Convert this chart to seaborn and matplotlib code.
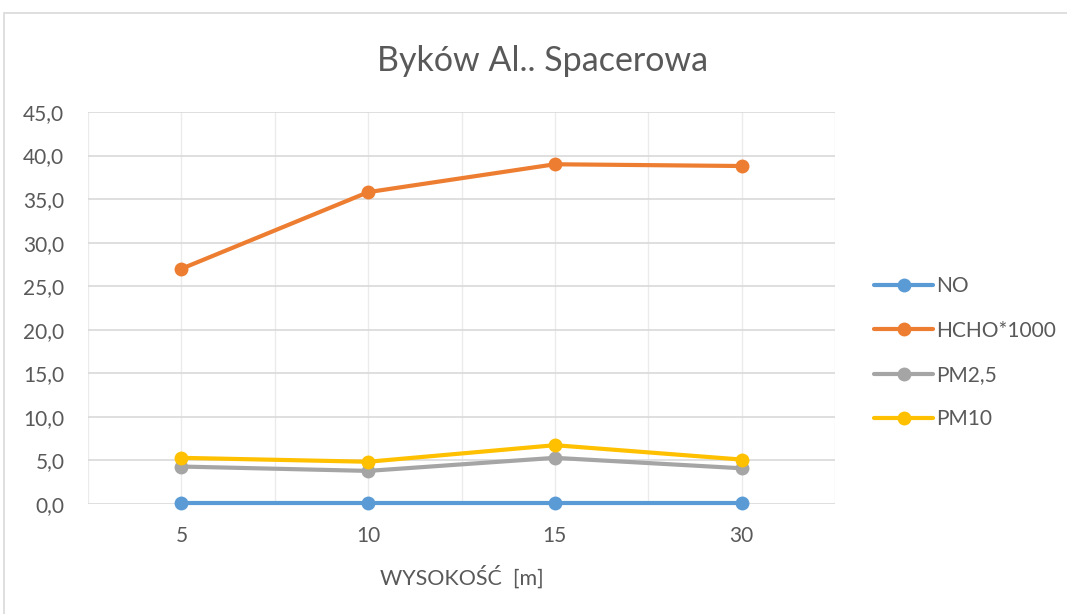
import matplotlib
matplotlib.use("Agg")
import matplotlib.pyplot as plt
import seaborn as sns
import pandas as pd
from matplotlib.patches import Rectangle
from matplotlib.lines import Line2D

categories = ["5", "10", "15", "30"]
no_vals = [0.15, 0.15, 0.15, 0.15]
hcho_vals = [27.0, 35.8, 39.0, 38.8]
pm25_vals = [4.3, 3.8, 5.3, 4.1]
pm10_vals = [5.3, 4.85, 6.75, 5.1]
series_names = ["NO", "HCHO*1000", "PM2,5", "PM10"]
colors = ["#5B9BD5", "#ED7D31", "#A5A5A5", "#FFC000"]
y_ticks = [0, 5, 10, 15, 20, 25, 30, 35, 40, 45]

rows = []
for name, vals in zip(series_names, [no_vals, hcho_vals, pm25_vals, pm10_vals]):
    for i, v in enumerate(vals):
        rows.append({"pos": i, "value": v, "series": name})
df = pd.DataFrame(rows)

sns.set_theme(style="white")
plt.rcParams["font.family"] = ["Lato", "DejaVu Sans"]

fig = plt.figure(figsize=(10.67, 6.14), dpi=100)
fig.patches.append(Rectangle((4/1067, -0.05), 1.2, 1 - 13/614 + 0.05,
                             transform=fig.transFigure, fill=False,
                             edgecolor="#D9D9D9", linewidth=1.2))
ax = fig.add_axes([88/1067, 1 - 504/614, (835 - 88)/1067, (504 - 112)/614])

sns.lineplot(data=df, x="pos", y="value", hue="series", hue_order=series_names,
             palette=colors, marker="o", markersize=10, markeredgewidth=0,
             linewidth=3, ax=ax, legend=False, zorder=3)
for ln in ax.lines:
    ln.set_clip_on(False)

ax.set_xlim(-0.5, 3.5)
ax.set_ylim(0, 45)
ax.set_yticks(y_ticks)
ax.set_yticklabels([f"{t:.1f}".replace(".", ",") for t in y_ticks])
ax.set_xticks(range(len(categories)))
ax.set_xticklabels(categories)
ax.set_xticks([-0.5, 0.5, 1.5, 2.5, 3.5], minor=True)
ax.grid(axis="y", color="#D9D9D9", linewidth=1.2, zorder=0)
ax.grid(axis="x", which="both", color="#EBEBEB", linewidth=1.0, zorder=0)
ax.tick_params(axis="both", length=0, labelsize=15, colors="#595959")
ax.tick_params(axis="y", pad=17)
ax.tick_params(axis="x", pad=16)
for s in ax.spines.values():
    s.set_visible(False)
ax.set_xlabel("WYSOKOŚĆ  [m]", fontsize=15.5, color="#595959", labelpad=14)
ax.set_ylabel("")

fig.text(543/1067, 1 - 61/614, "Byków Al.. Spacerowa", ha="center", va="center",
         fontsize=24.5, color="#595959")

handles = [Line2D([0], [0], color=c, linewidth=3, marker="o", markersize=10,
                  markeredgewidth=0) for c in colors]
leg = fig.legend(handles, series_names, loc="upper left",
                 bbox_to_anchor=(866/1067, 1 - 268/614), frameon=False,
                 fontsize=15, handlelength=2.8, handletextpad=0.15,
                 labelspacing=1.17, borderaxespad=0)
for t in leg.get_texts():
    t.set_color("#595959")

fig.savefig("out.png", dpi=100)
